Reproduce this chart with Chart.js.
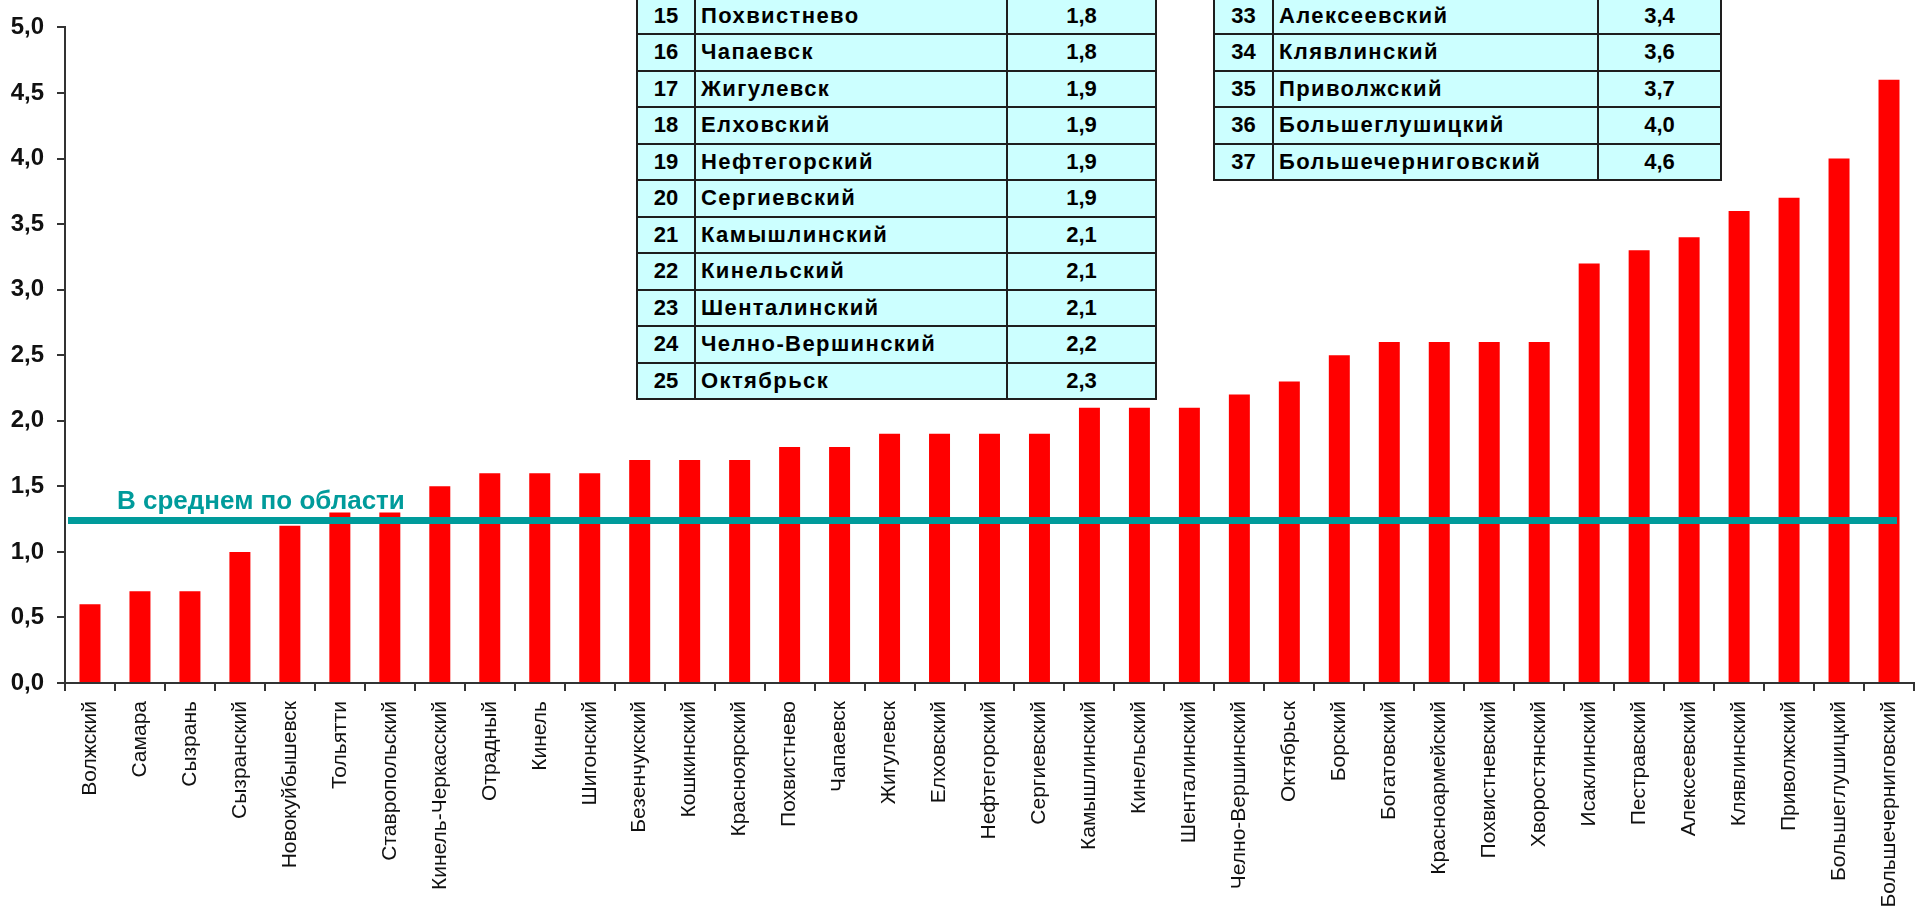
<!DOCTYPE html>
<html><head><meta charset="utf-8">
<script src="https://cdn.jsdelivr.net/npm/chart.js@4"></script>
<style>
html,body{margin:0;padding:0;background:#fff;overflow:hidden}
#wrap{position:relative;width:1915px;height:907px}
#c{position:absolute;left:0;top:0}
.tbl{position:absolute;background:#ccffff;font-family:"Liberation Sans",Arial,sans-serif;font-weight:bold;font-size:22px;color:#000}
.ln{position:absolute;background:#1e1e1e}
.cell{position:absolute;white-space:nowrap}
.cell.name{letter-spacing:1.4px}
</style>
</head><body>
<div id="wrap"><canvas id="c" width="1915" height="907"></canvas></div>
<script>
const categories = ["Волжский","Самара","Сызрань","Сызранский","Новокуйбышевск","Тольятти","Ставропольский","Кинель-Черкасский","Отрадный","Кинель","Шигонский","Безенчукский","Кошкинский","Красноярский","Похвистнево","Чапаевск","Жигулевск","Елховский","Нефтегорский","Сергиевский","Камышлинский","Кинельский","Шенталинский","Челно-Вершинский","Октябрьск","Борский","Богатовский","Красноармейский","Похвистневский","Хворостянский","Исаклинский","Пестравский","Алексеевский","Клявлинский","Приволжский","Большеглушицкий","Большечерниговский"];
const values = [0.6,0.7,0.7,1.0,1.2,1.3,1.3,1.5,1.6,1.6,1.6,1.7,1.7,1.7,1.8,1.8,1.9,1.9,1.9,1.9,2.1,2.1,2.1,2.2,2.3,2.5,2.6,2.6,2.6,2.6,3.2,3.3,3.4,3.6,3.7,4.0,4.6];
const avgValue = 1.24;
const avgLabel = "В среднем по области";
const yMin = 0, yMax = 5, yStep = 0.5;
const leftTableRanks = [15,16,17,18,19,20,21,22,23,24,25];
const rightTableRanks = [33,34,35,36,37];

const fmt = v => Number(v).toFixed(1).replace('.', ',');
const TEAL = '#009b9b';

const avgPlugin = {
  id: 'avgLine',
  afterDatasetsDraw(chart) {
    const {ctx, chartArea, scales: {x, y}} = chart;
    const py = y.getPixelForValue(avgValue);
    ctx.save();
    ctx.strokeStyle = TEAL;
    ctx.lineWidth = 7;
    ctx.beginPath();
    ctx.moveTo(chartArea.left + 3, py);
    ctx.lineTo(x.getPixelForValue(categories.length - 1) + 8, py);
    ctx.stroke();
    ctx.fillStyle = TEAL;
    ctx.font = 'bold 26px "Liberation Sans", Arial, sans-serif';
    ctx.textBaseline = 'alphabetic';
    ctx.textAlign = 'left';
    ctx.fillText(avgLabel, chartArea.left + 52, py - 11.5);
    ctx.restore();
  }
};

new Chart(document.getElementById('c'), {
  type: 'bar',
  data: {
    labels: categories,
    datasets: [{data: values, backgroundColor: '#ff0000', borderWidth: 0, barPercentage: 0.42, categoryPercentage: 1}]
  },
  options: {
    responsive: false,
    animation: false,
    layout: {padding: {top: 24, right: 1, left: 0, bottom: 0}},
    plugins: {legend: {display: false}, tooltip: {enabled: false}},
    scales: {
      x: {
        grid: {display: true, drawOnChartArea: false, tickLength: 8, color: '#333', lineWidth: 2, offset: true},
        border: {color: '#333', width: 2},
        ticks: {autoSkip: false, minRotation: 90, maxRotation: 90, padding: 10, color: '#111',
                font: {family: '"Liberation Sans", Arial, sans-serif', size: 21}},
        afterFit(s) { s.height = 224; s.paddingLeft = 0; s.paddingRight = 0; }
      },
      y: {
        min: yMin, max: yMax,
        ticks: {stepSize: yStep, padding: 13, color: '#111',
                font: {family: '"Liberation Sans", Arial, sans-serif', size: 24, weight: 'bold'},
                callback: v => fmt(v)},
        grid: {display: true, drawOnChartArea: false, tickLength: 8, color: '#333', lineWidth: 2},
        border: {color: '#333', width: 2},
        afterFit(s) { s.width = 65; }
      }
    }
  },
  plugins: [avgPlugin]
});

function buildTable(ranks, cols, top, rowH, valueAlign) {
  const wrap = document.getElementById('wrap');
  const L = cols[0], R = cols[cols.length - 1], H = ranks.length * rowH;
  const t = document.createElement('div');
  t.className = 'tbl';
  Object.assign(t.style, {left: L + 'px', top: top + 'px', width: (R - L) + 'px', height: H + 'px'});
  wrap.appendChild(t);
  const line = (x, y, w, h) => {
    const d = document.createElement('div');
    d.className = 'ln';
    Object.assign(d.style, {left: x + 'px', top: y + 'px', width: w + 'px', height: h + 'px'});
    t.appendChild(d);
  };
  for (let i = 0; i <= ranks.length; i++) line(-1, i * rowH - 1, R - L + 2, 2);
  cols.forEach(c => line(c - L - 1, -1, 2, H + 2));
  ranks.forEach((r, i) => {
    const texts = [String(r), categories[r - 1], fmt(values[r - 1])];
    const aligns = ['center', 'left', valueAlign];
    texts.forEach((tx, j) => {
      const d = document.createElement('div');
      d.className = 'cell' + (j === 1 ? ' name' : '');
      d.textContent = tx;
      const x0 = cols[j] - L, x1 = cols[j + 1] - L;
      Object.assign(d.style, {
        left: (x0 + (j === 1 ? 6 : 0)) + 'px', top: (i * rowH) + 'px',
        width: (x1 - x0 - (j === 1 ? 6 : 0)) + 'px', height: rowH + 'px',
        lineHeight: rowH + 'px', textAlign: aligns[j]
      });
      t.appendChild(d);
    });
  });
}
buildTable(leftTableRanks, [637, 695, 1007, 1156], -2.5, 36.5, 'center');
buildTable(rightTableRanks, [1214, 1273, 1598, 1721], -2.5, 36.5, 'center');
</script>
</body></html>
